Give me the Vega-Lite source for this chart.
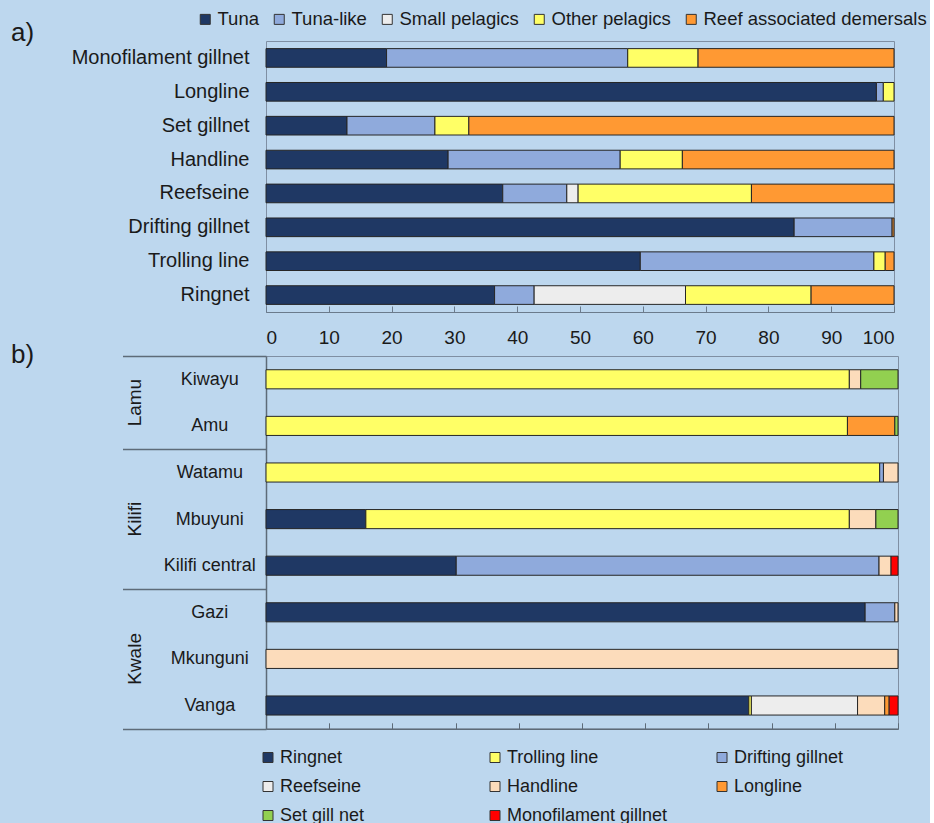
{
  "$schema": "https://vega.github.io/schema/vega-lite/v6.json",
  "background": "#BDD7EE",
  "padding": {"left": 10, "top": 9, "right": 2, "bottom": 0},
  "bounds": "flush",
  "spacing": 44,
  "resolve": {"scale": {"x": "independent", "y": "independent", "color": "independent"}, "legend": {"color": "independent"}},
  "config": {
    "font": "Liberation Sans",
    "view": {"stroke": "#7F8FA3", "strokeWidth": 1},
    "axis": {"labelFont": "Liberation Sans", "labelColor": "#1a1a1a", "domainColor": "#6B7B8C", "tickColor": "#6B7B8C", "labelLimit": 400, "grid": false},
    "legend": {"labelFont": "Liberation Sans", "labelColor": "#1a1a1a", "labelLimit": 400, "padding": 0},
    "title": {"font": "Liberation Sans", "color": "#1a1a1a", "fontWeight": "normal", "fontSize": 26}
  },
  "vconcat": [
    {
      "width": 628,
      "height": 271,
      "title": {"text": "a)", "anchor": "start", "frame": "group", "dx": -255, "dy": 36, "offset": 0},
      "data": {"values": [
        {"gear": "Monofilament gillnet", "group": "Tuna", "o": 0, "pct": 19.2},
        {"gear": "Monofilament gillnet", "group": "Tuna-like", "o": 1, "pct": 38.4},
        {"gear": "Monofilament gillnet", "group": "Other pelagics", "o": 3, "pct": 11.2},
        {"gear": "Monofilament gillnet", "group": "Reef associated demersals", "o": 4, "pct": 31.2},
        {"gear": "Longline", "group": "Tuna", "o": 0, "pct": 97.2},
        {"gear": "Longline", "group": "Tuna-like", "o": 1, "pct": 1.1},
        {"gear": "Longline", "group": "Other pelagics", "o": 3, "pct": 1.7},
        {"gear": "Set gillnet", "group": "Tuna", "o": 0, "pct": 12.9},
        {"gear": "Set gillnet", "group": "Tuna-like", "o": 1, "pct": 14.0},
        {"gear": "Set gillnet", "group": "Other pelagics", "o": 3, "pct": 5.4},
        {"gear": "Set gillnet", "group": "Reef associated demersals", "o": 4, "pct": 67.7},
        {"gear": "Handline", "group": "Tuna", "o": 0, "pct": 29.0},
        {"gear": "Handline", "group": "Tuna-like", "o": 1, "pct": 27.4},
        {"gear": "Handline", "group": "Other pelagics", "o": 3, "pct": 9.9},
        {"gear": "Handline", "group": "Reef associated demersals", "o": 4, "pct": 33.7},
        {"gear": "Reefseine", "group": "Tuna", "o": 0, "pct": 37.7},
        {"gear": "Reefseine", "group": "Tuna-like", "o": 1, "pct": 10.2},
        {"gear": "Reefseine", "group": "Small pelagics", "o": 2, "pct": 1.8},
        {"gear": "Reefseine", "group": "Other pelagics", "o": 3, "pct": 27.6},
        {"gear": "Reefseine", "group": "Reef associated demersals", "o": 4, "pct": 22.7},
        {"gear": "Drifting gillnet", "group": "Tuna", "o": 0, "pct": 84.1},
        {"gear": "Drifting gillnet", "group": "Tuna-like", "o": 1, "pct": 15.6},
        {"gear": "Drifting gillnet", "group": "Reef associated demersals", "o": 4, "pct": 0.3},
        {"gear": "Trolling line", "group": "Tuna", "o": 0, "pct": 59.6},
        {"gear": "Trolling line", "group": "Tuna-like", "o": 1, "pct": 37.2},
        {"gear": "Trolling line", "group": "Other pelagics", "o": 3, "pct": 1.8},
        {"gear": "Trolling line", "group": "Reef associated demersals", "o": 4, "pct": 1.4},
        {"gear": "Ringnet", "group": "Tuna", "o": 0, "pct": 36.4},
        {"gear": "Ringnet", "group": "Tuna-like", "o": 1, "pct": 6.3},
        {"gear": "Ringnet", "group": "Small pelagics", "o": 2, "pct": 24.1},
        {"gear": "Ringnet", "group": "Other pelagics", "o": 3, "pct": 20.0},
        {"gear": "Ringnet", "group": "Reef associated demersals", "o": 4, "pct": 13.2}
      ]},
      "mark": {"type": "bar", "stroke": "#262626", "strokeWidth": 1},
      "encoding": {
        "y": {
          "field": "gear", "type": "nominal",
          "sort": ["Monofilament gillnet", "Longline", "Set gillnet", "Handline", "Reefseine", "Drifting gillnet", "Trolling line", "Ringnet"],
          "scale": {"paddingInner": 0.45, "paddingOuter": 0.225},
          "axis": {"title": null, "ticks": false, "domain": false, "labelFontSize": 20, "labelPadding": 17}
        },
        "x": {
          "field": "pct", "type": "quantitative", "stack": "zero",
          "scale": {"domain": [0, 100], "nice": false},
          "axis": {"title": null, "values": [0, 10, 20, 30, 40, 50, 60, 70, 80, 90, 100], "tickSize": -6, "labelPadding": 22, "labelFontSize": 19}
        },
        "color": {
          "field": "group", "type": "nominal",
          "scale": {"domain": ["Tuna", "Tuna-like", "Small pelagics", "Other pelagics", "Reef associated demersals"], "range": ["#1F3864", "#8FAADC", "#EDEDED", "#FFFF66", "#FF9933"]},
          "legend": {"title": null, "orient": "none", "legendX": -70, "legendY": -31, "direction": "horizontal", "symbolType": "square", "symbolSize": 100, "symbolStrokeColor": "#333333", "symbolStrokeWidth": 1, "labelFontSize": 18.5, "labelOffset": 3, "columnPadding": 11}
        },
        "order": {"field": "o", "type": "quantitative"}
      }
    },
    {
      "width": 632,
      "height": {"step": 46.6},
      "title": {"text": "b)", "anchor": "start", "frame": "group", "dx": -255, "dy": 21, "offset": 0},
      "data": {"values": [
        {"site": "Kiwayu", "gear": "Trolling line", "o": 1, "pct": 92.3},
        {"site": "Kiwayu", "gear": "Handline", "o": 4, "pct": 1.8},
        {"site": "Kiwayu", "gear": "Set gill net", "o": 6, "pct": 5.9},
        {"site": "Amu", "gear": "Trolling line", "o": 1, "pct": 92.0},
        {"site": "Amu", "gear": "Longline", "o": 5, "pct": 7.5},
        {"site": "Amu", "gear": "Set gill net", "o": 6, "pct": 0.5},
        {"site": "Watamu", "gear": "Trolling line", "o": 1, "pct": 97.1},
        {"site": "Watamu", "gear": "Drifting gillnet", "o": 2, "pct": 0.6},
        {"site": "Watamu", "gear": "Handline", "o": 4, "pct": 2.3},
        {"site": "Mbuyuni", "gear": "Ringnet", "o": 0, "pct": 15.8},
        {"site": "Mbuyuni", "gear": "Trolling line", "o": 1, "pct": 76.5},
        {"site": "Mbuyuni", "gear": "Handline", "o": 4, "pct": 4.2},
        {"site": "Mbuyuni", "gear": "Set gill net", "o": 6, "pct": 3.5},
        {"site": "Kilifi central", "gear": "Ringnet", "o": 0, "pct": 30.1},
        {"site": "Kilifi central", "gear": "Drifting gillnet", "o": 2, "pct": 66.9},
        {"site": "Kilifi central", "gear": "Handline", "o": 4, "pct": 1.9},
        {"site": "Kilifi central", "gear": "Monofilament gillnet", "o": 7, "pct": 1.1},
        {"site": "Gazi", "gear": "Ringnet", "o": 0, "pct": 94.8},
        {"site": "Gazi", "gear": "Drifting gillnet", "o": 2, "pct": 4.7},
        {"site": "Gazi", "gear": "Handline", "o": 4, "pct": 0.5},
        {"site": "Mkunguni", "gear": "Handline", "o": 4, "pct": 100},
        {"site": "Vanga", "gear": "Ringnet", "o": 0, "pct": 76.4},
        {"site": "Vanga", "gear": "Trolling line", "o": 1, "pct": 0.4},
        {"site": "Vanga", "gear": "Reefseine", "o": 3, "pct": 16.8},
        {"site": "Vanga", "gear": "Handline", "o": 4, "pct": 4.3},
        {"site": "Vanga", "gear": "Longline", "o": 5, "pct": 0.7},
        {"site": "Vanga", "gear": "Monofilament gillnet", "o": 7, "pct": 1.4}
      ]},
      "resolve": {"axis": {"y": "independent"}},
      "layer": [
        {
          "mark": {"type": "bar", "height": {"band": 0.41}, "stroke": "#262626", "strokeWidth": 1},
          "encoding": {
            "y": {
              "field": "site", "type": "nominal",
              "sort": ["Kiwayu", "Amu", "Watamu", "Mbuyuni", "Kilifi central", "Gazi", "Mkunguni", "Vanga"],
              "scale": {"paddingInner": 0, "paddingOuter": 0},
              "axis": {
                "title": null, "orient": "left", "tickBand": "extent", "tickSize": 143.5, "tickWidth": 1.5, "tickColor": "#5E6B78", "domainColor": "#5E6B78", "domainWidth": 1.5,
                "tickOpacity": {"condition": {"test": "datum.extra || datum.value == 'Amu' || datum.value == 'Kilifi central' || datum.value == 'Vanga'", "value": 1}, "value": 0},
                "labelAlign": "center", "labelPadding": -86.8, "labelFontSize": 18
              }
            },
            "x": {
              "field": "pct", "type": "quantitative", "stack": "zero",
              "scale": {"domain": [0, 100], "nice": false},
              "axis": {"title": null, "labels": false, "values": [0, 10, 20, 30, 40, 50, 60, 70, 80, 90, 100], "tickSize": -6, "tickColor": "#5E6B78", "domainColor": "#5E6B78", "domainWidth": 1.5}
            },
            "color": {
              "field": "gear", "type": "nominal",
              "scale": {"domain": ["Ringnet", "Trolling line", "Drifting gillnet", "Reefseine", "Handline", "Longline", "Set gill net", "Monofilament gillnet"], "range": ["#1F3864", "#FFFF66", "#8FAADC", "#EDEDED", "#FCDCBB", "#FF9933", "#92D050", "#FF0000"]},
              "legend": {"title": null, "orient": "none", "legendX": -7, "legendY": 392.5, "direction": "horizontal", "columns": 3, "gridAlign": "all", "columnPadding": 45, "rowPadding": 11, "symbolType": "square", "symbolSize": 100, "symbolStrokeColor": "#333333", "symbolStrokeWidth": 1, "labelFontSize": 18, "labelOffset": 3}
            },
            "order": {"field": "o", "type": "quantitative"}
          }
        },
        {
          "mark": {"type": "tick", "opacity": 0},
          "encoding": {
            "y": {
              "field": "site", "type": "nominal",
              "sort": ["Kiwayu", "Amu", "Watamu", "Mbuyuni", "Kilifi central", "Gazi", "Mkunguni", "Vanga"],
              "axis": {
                "title": null, "orient": "left", "values": ["Kiwayu", "Mbuyuni", "Mkunguni"],
                "labelExpr": "datum.value == 'Kiwayu' ? 'Lamu' : datum.value == 'Mbuyuni' ? 'Kilifi' : 'Kwale'",
                "labelAngle": -90, "labelAlign": "center", "labelBaseline": "alphabetic", "labelPadding": 126,
                "labelOffset": {"condition": {"test": "datum.value == 'Kiwayu'", "value": 23.3}, "value": 0},
                "ticks": false, "domain": false, "labelFontSize": 19
              }
            }
          }
        }
      ]
    }
  ]
}
